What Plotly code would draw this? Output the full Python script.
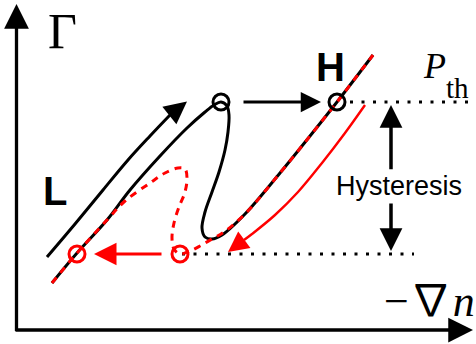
import plotly.graph_objects as go

# Schematic flux-gradient relation: Gamma versus -grad(n), arbitrary units.
# Black S-curve: path taken while the gradient is raised (L -> H).
s_up_grad = [52, 77, 107, 130, 160, 187, 205, 214, 221, 227, 229, 228, 225, 219,
             212, 205, 202, 205, 212, 222, 245, 280, 310, 337, 373]
s_up_flux = [61, 91, 124, 154, 188, 216, 232, 239, 242, 238, 229, 212, 194, 172,
             152, 132, 116, 107, 105, 109, 130, 171, 208, 242, 289]

# Red dashed S-curve: path taken while the gradient is lowered (H -> L).
s_down_grad = [52, 77, 107, 125, 150, 165, 178, 185, 187, 185, 179, 174, 172, 174,
               180, 190, 200, 212, 224, 245, 280, 310, 337, 373]
s_down_flux = [61, 91, 124, 143, 161, 171, 176, 175, 166, 152, 137, 121, 106, 95,
               90, 93, 98, 105, 112, 130, 171, 208, 242, 289]

# Bifurcation points (black: L->H jump, red: H->L back-transition)
jump_up_grad = [221, 337]
jump_up_flux = [242, 242]
jump_down_grad = [77, 180]
jump_down_flux = [90, 90]

# Threshold levels (power threshold P_th and the back-transition level)
pth_grad = [350, 468]
pth_flux = [242, 242]
back_grad = [182, 414]
back_flux = [90, 90]

# Guide arrows alongside the branches
rise_grad = [47, 75, 103, 128, 150, 170, 187]
rise_flux = [87, 120, 154, 184, 208, 229, 242.5]
fall_grad = [365, 345, 322, 298, 275, 252, 244, 228]
fall_flux = [239, 211, 181, 152, 129, 110, 104, 92]

BLACK = "#000000"
RED = "#ff0000"

fig = go.Figure()

fig.add_trace(go.Scatter(x=pth_grad, y=pth_flux, mode="lines",
                         line=dict(color=BLACK, width=3, dash="3px,8.5px")))
fig.add_trace(go.Scatter(x=back_grad, y=back_flux, mode="lines",
                         line=dict(color=BLACK, width=3, dash="3px,8.5px")))

fig.add_trace(go.Scatter(x=s_up_grad, y=s_up_flux, mode="lines",
                         line=dict(color=BLACK, width=3, shape="spline", smoothing=1)))
fig.add_trace(go.Scatter(x=s_down_grad, y=s_down_flux, mode="lines",
                         line=dict(color=RED, width=3, shape="spline", smoothing=1,
                                   dash="7px,6px")))

# curved guide arrows: shaft as a line, head as an annotation on the last segment
fig.add_trace(go.Scatter(x=rise_grad[:-1], y=rise_flux[:-1], mode="lines",
                         line=dict(color=BLACK, width=3, shape="spline", smoothing=1)))
fig.add_trace(go.Scatter(x=fall_grad[:-1], y=fall_flux[:-1], mode="lines",
                         line=dict(color=RED, width=2.4, shape="spline", smoothing=1)))

fig.add_trace(go.Scatter(x=jump_up_grad, y=jump_up_flux, mode="markers",
                         marker=dict(symbol="circle-open", size=16, color=BLACK,
                                     line=dict(width=3, color=BLACK))))
fig.add_trace(go.Scatter(x=jump_down_grad, y=jump_down_flux, mode="markers",
                         marker=dict(symbol="circle-open", size=16, color=RED,
                                     line=dict(width=3, color=RED))))


def arrow(tail, tip, color, width, size):
    fig.add_annotation(x=tip[0], y=tip[1], ax=tail[0], ay=tail[1],
                       xref="x", yref="y", axref="x", ayref="y",
                       text="", showarrow=True, arrowhead=2, arrowsize=size,
                       arrowwidth=width, arrowcolor=color, standoff=0,
                       startstandoff=0, font=dict(size=1), borderpad=0)


# axes
arrow((16.5, 12.5), (16.5, 340), BLACK, 3.3, 1.5)
arrow((15, 14), (473, 14), BLACK, 3.3, 1.5)
# jumps between branches
arrow((243, 242), (321, 242), BLACK, 3, 1.35)
arrow((162, 90), (94, 90), RED, 3, 1.5)
# hysteresis span
arrow((391, 174), (391, 239), BLACK, 3.5, 1.3)
arrow((391, 141), (391, 93), BLACK, 3.5, 1.3)
# heads of the curved guide arrows
arrow((rise_grad[-2], rise_flux[-2]), (rise_grad[-1], rise_flux[-1]), BLACK, 3, 1.5)
arrow((fall_grad[-2], fall_flux[-2]), (fall_grad[-1], fall_flux[-1]), RED, 2.4, 1.7)


def label(x, y, text, family, size, **kw):
    fig.add_annotation(x=x, y=y, xref="x", yref="y", text=text, showarrow=False,
                       xanchor="center", yanchor="middle",
                       font=dict(family=family, size=size, color=BLACK), **kw)


SERIF = "Liberation Serif, DejaVu Serif, serif"
SANS = "Liberation Sans, Arial, sans-serif"

label(62.5, 313.5, "Γ", SERIF, 50)
label(330.5, 277, "<b>H</b>", SANS, 40)
label(55, 153, "<b>L</b>", SANS, 40)
label(434, 278, "<i>P</i>", SERIF, 36)
label(457, 256, "th", SERIF, 29)
label(399, 158, "Hysteresis", SANS, 27, bgcolor="white")
label(429, 47,
      "−<span style=\"font-family:'Noto Sans CJK JP'\">∇</span><i>n</i>",
      SERIF, 44)

fig.update_layout(
    width=476, height=344,
    margin=dict(l=0, r=0, t=0, b=0),
    paper_bgcolor="white", plot_bgcolor="white",
    showlegend=False,
    xaxis=dict(visible=False, range=[0, 476], fixedrange=True),
    yaxis=dict(visible=False, range=[0, 344], fixedrange=True),
)

fig.write_html("out.html")
